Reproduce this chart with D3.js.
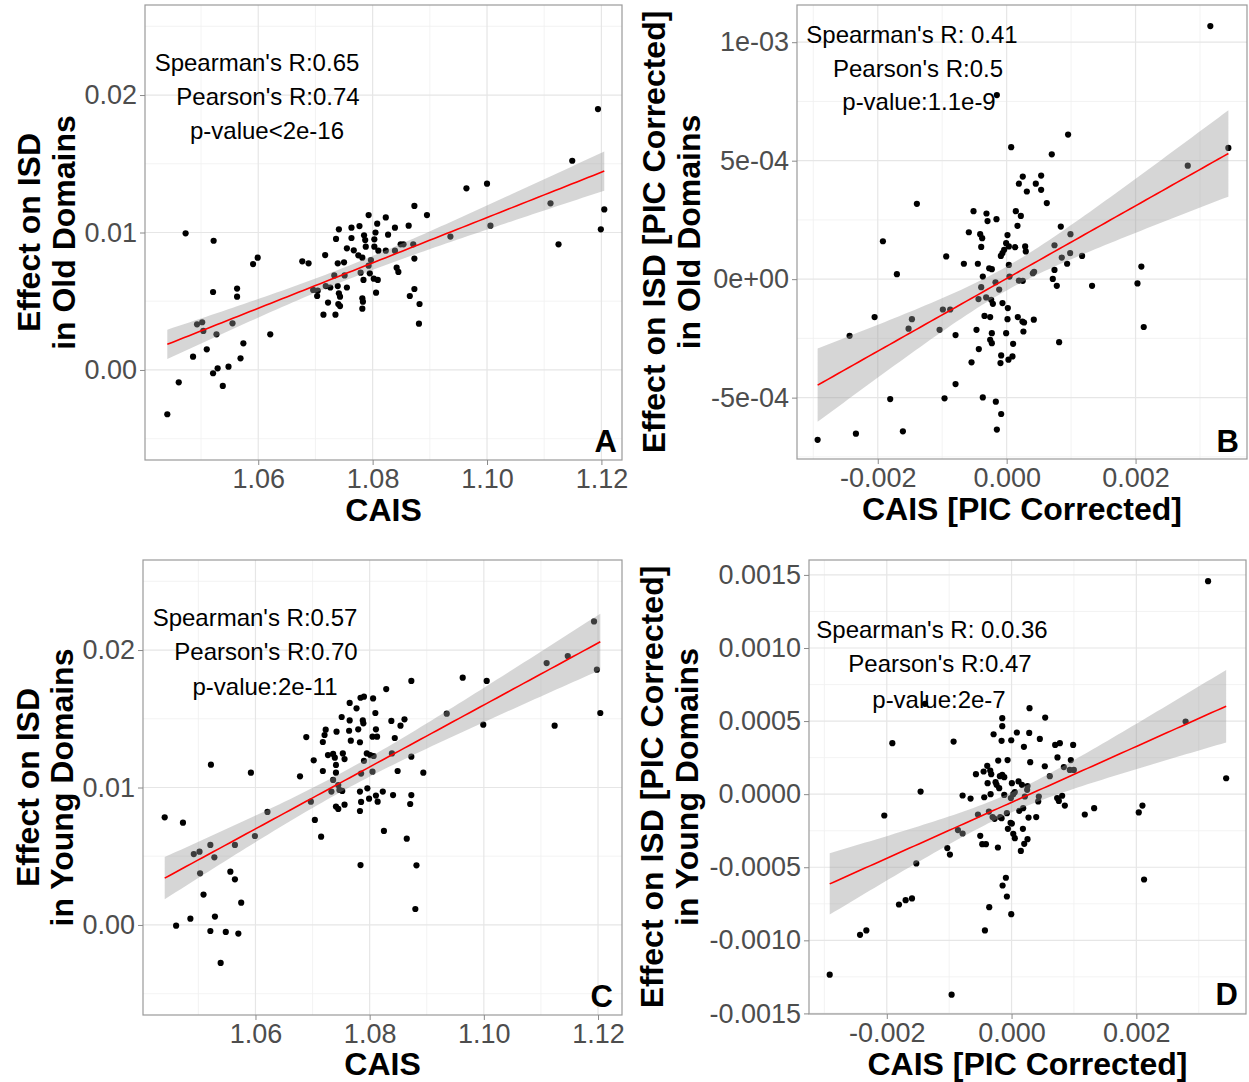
<!DOCTYPE html>
<html lang="en">
<head>
<meta charset="UTF-8">
<title>CAIS vs ISD</title>
<script src="https://cdn.jsdelivr.net/npm/d3@7"></script>
<style>
  body { margin: 0; background: #fff; }
  text { font-family: "Liberation Sans", Arial, Helvetica, sans-serif; }
</style>
</head>
<body>
<svg id="fig" width="1249" height="1082"></svg>
<script>
// ---- data ----
// A: CAIS vs effect on ISD, old domains
const oldRaw = [
  [1.0473,0.00994],[1.0522,0.0094],[1.0599,0.00817],[1.0591,0.0077],[1.0677,0.0079],[1.0688,0.00776],[1.0717,0.00836],
  [1.0741,0.01023],[1.0736,0.00953],[1.0763,0.01035],[1.0777,0.01047],[1.0793,0.01127],[1.0808,0.01064],[1.0823,0.0111],
  [1.0827,0.00984],[1.0763,0.0096],[1.0755,0.00885],[1.0767,0.0087],[1.0785,0.0098],[1.0787,0.00945],[1.0788,0.00897],
  [1.0803,0.0095],[1.0805,0.01],[1.0803,0.00897],[1.081,0.00868],[1.0823,0.00868],[1.0775,0.00834],[1.0782,0.00817],
  [1.0779,0.00708],[1.0793,0.00759],[1.0797,0.008],[1.0784,0.00655],[1.0795,0.00703],[1.0802,0.00664],[1.0809,0.00655],
  [1.0806,0.00562],[1.0739,0.00776],[1.075,0.00783],[1.0733,0.00688],[1.0751,0.00688],[1.0718,0.0061],[1.0726,0.006],
  [1.0739,0.0061],[1.0755,0.006],[1.0696,0.00582],[1.0704,0.00577],[1.0703,0.00538],[1.0741,0.00558],[1.0743,0.00533],
  [1.0722,0.0049],[1.074,0.0048],[1.0743,0.00465],[1.0714,0.00402],[1.0735,0.00402],[1.0782,0.00521],[1.0783,0.00497],
  [1.0782,0.00446],[1.0563,0.00592],[1.0563,0.00533],[1.0521,0.00567],[1.0493,0.00332],[1.0502,0.00347],[1.0504,0.00284],
  [1.0527,0.00259],[1.0555,0.00339],[1.0621,0.00259],[1.0574,0.00194],[1.051,0.0015],[1.0486,0.00097],[1.0569,0.00085],
  [1.0548,0.00024],[1.0529,0.00012],[1.0521,-0.00024],[1.0538,-0.00116],[1.0461,-0.0009],[1.0441,-0.00322],
  [1.1194,0.01898],[1.1149,0.01522],[1.0964,0.01321],[1.10,0.01355],[1.1111,0.01212],[1.1205,0.01168],[1.1199,0.01023],
  [1.1125,0.00914],[1.1006,0.0105],[1.0936,0.0097],[1.0873,0.01193],[1.0895,0.01127],[1.0839,0.01035],[1.0863,0.0105],
  [1.0849,0.00914],[1.0854,0.00914],[1.0871,0.00914],[1.0839,0.00868],[1.0873,0.0081],[1.0842,0.00744],[1.0845,0.00713],
  [1.0873,0.00589],[1.0865,0.00538],[1.0882,0.0048],[1.0881,0.00337]
];

// B: PIC corrected, old domains
const oldPic = [
  [-0.152e-3,7.77e-4],[0.07e-3,5.57e-4],[-1.393e-3,3.18e-4],[-1.92e-3,1.60e-4],[-1.703e-3,0.21e-4],[-2.049e-3,-1.60e-4],
  [-2.437e-3,-2.39e-4],[-2.933e-3,-6.78e-4],[-2.339e-3,-6.52e-4],[-1.807e-3,-5.06e-4],[-1.61e-3,-6.42e-4],[-1.522e-3,-2.09e-4],
  [-1.47e-3,-1.69e-4],[-1.041e-3,-2.14e-4],[-0.99e-3,-1.28e-4],[-0.876e-3,-1.28e-4],[-0.938e-3,0.96e-4],[-0.793e-3,-2.36e-4],
  [-0.793e-3,-4.43e-4],[-0.964e-3,-5.03e-4],[-0.664e-3,0.65e-4],[-0.587e-3,1.98e-4],[-0.514e-3,2.87e-4],[-0.411e-3,1.90e-4],
  [-0.38e-3,1.73e-4],[-0.395e-3,1.36e-4],[-0.313e-3,2.77e-4],[-0.297e-3,2.45e-4],[-0.158e-3,2.53e-4],[-0.447e-3,0.65e-4],
  [-0.37e-3,0.11e-4],[-0.395e-3,-0.34e-4],[-0.437e-3,-0.84e-4],[-0.318e-3,-0.77e-4],[-0.271e-3,0.46e-4],[-0.23e-3,0.42e-4],
  [-0.24e-3,-0.87e-4],[-0.214e-3,-1.04e-4],[-0.173e-3,-0.13e-4],[-0.116e-3,-0.44e-4],[-0.065e-3,-1.01e-4],[0.018e-3,-1.22e-4],
  [-0.344e-3,-1.55e-4],[-0.256e-3,-1.60e-4],[-0.468e-3,-2.14e-4],[-0.23e-3,-2.28e-4],[-0.256e-3,-2.56e-4],[-0.23e-3,-2.70e-4],
  [-0.432e-3,-2.95e-4],[-0.545e-3,-3.51e-4],[-0.37e-3,-4.99e-4],[-0.168e-3,-5.17e-4],[-0.085e-3,-5.69e-4],[-0.152e-3,-6.35e-4],
  [-0.096e-3,-3.54e-4],[-0.085e-3,-3.22e-4],[0.028e-3,-3.40e-4],[0.09e-3,-3.26e-4],[0.1e-3,-2.73e-4],[-0.008e-3,-2.28e-4],
  [0.013e-3,-1.69e-4],[0.173e-3,-1.60e-4],[0.034e-3,0.60e-4],[0.044e-3,0.11e-4],[0.189e-3,-0.06e-4],[0.013e-3,1.86e-4],
  [-0.008e-3,1.52e-4],[0.034e-3,1.38e-4],[-0.039e-3,1.24e-4],[-0.09e-3,0.98e-4],[-0.065e-3,1.10e-4],[0.132e-3,1.35e-4],
  [0.142e-3,2.87e-4],[0.168e-3,2.25e-4],[0.189e-3,4.03e-4],
  [3.16e-3,10.68e-4],[3.44e-3,5.54e-4],[2.81e-3,4.79e-4],[0.953e-3,6.10e-4],[0.70e-3,5.27e-4],[0.25e-3,4.33e-4],
  [0.313e-3,3.70e-4],[0.452e-3,4.03e-4],[0.535e-3,4.37e-4],[0.535e-3,3.77e-4],[0.623e-3,3.21e-4],[0.22e-3,2.67e-4],
  [0.287e-3,1.38e-4],[0.297e-3,1.17e-4],[0.84e-3,2.22e-4],[0.742e-3,1.43e-4],[0.99e-3,1.90e-4],[0.985e-3,1.10e-4],
  [0.855e-3,0.91e-4],[0.938e-3,0.65e-4],[1.17e-3,0.98e-4],[0.742e-3,0.39e-4],[0.716e-3,0.01e-4],[0.778e-3,-0.28e-4],
  [0.406e-3,0.25e-4],[0.426e-3,0.31e-4],[0.25e-3,-0.07e-4],[1.325e-3,-0.28e-4],[2.09e-3,0.53e-4],[2.03e-3,-0.18e-4],
  [2.127e-3,-2.02e-4],[0.245e-3,-1.79e-4],[0.27e-3,-1.83e-4],[0.421e-3,-1.71e-4],[0.26e-3,-2.21e-4],[0.814e-3,-2.66e-4]
];

// C: CAIS vs effect on ISD, young domains
const youngRaw = [
  [1.0441,0.00783],[1.0473,0.00744],[1.0522,0.01166],[1.0592,0.01108],[1.0492,0.00516],[1.0502,0.00533],[1.0521,0.00582],
  [1.0528,0.00492],[1.0503,0.00376],[1.0564,0.00582],[1.0599,0.00647],[1.0621,0.00822],[1.0556,0.00388],[1.0564,0.00332],
  [1.0575,0.00162],[1.0509,0.00221],[1.0486,0.00046],[1.0461,-0.00005],[1.0529,0.00061],[1.0521,-0.00044],[1.0548,-0.00051],
  [1.057,-0.00063],[1.0539,-0.00276],[1.0689,0.01367],[1.0678,0.01081],[1.0702,0.01198],[1.0697,0.00897],[1.0704,0.00764],
  [1.0715,0.00642],[1.0718,0.01331],[1.0723,0.01421],[1.0721,0.01382],[1.0718,0.0112],[1.0727,0.01236],[1.0736,0.01244],
  [1.0742,0.01406],[1.0751,0.01513],[1.0765,0.01615],[1.0765,0.01488],[1.0764,0.01413],[1.0767,0.01341],[1.0739,0.01217],
  [1.0741,0.01164],[1.0741,0.01108],[1.0736,0.01055],[1.0753,0.01248],[1.0756,0.01207],[1.0745,0.01018],[1.0747,0.00982],
  [1.0752,0.00975],[1.0733,0.0097],[1.0741,0.00861],[1.0745,0.00844],[1.0756,0.00875],[1.0777,0.01576],[1.0784,0.01653],
  [1.079,0.01661],[1.0806,0.01648],[1.078,0.01423],[1.0788,0.01488],[1.0789,0.01467],[1.0783,0.01329],[1.0805,0.0137],
  [1.081,0.01542],[1.0811,0.01423],[1.0813,0.0137],[1.0829,0.01716],[1.0795,0.01248],[1.0801,0.01236],[1.0807,0.01229],
  [1.079,0.01193],[1.0785,0.01101],[1.0805,0.01115],[1.0783,0.0097],[1.0785,0.00895],[1.0796,0.00994],[1.0799,0.00919],
  [1.0783,0.00829],[1.0811,0.00941],[1.0814,0.00897],[1.0823,0.0097],[1.0825,0.00684],[1.0784,0.00436],
  [1.1193,0.02208],[1.1147,0.01956],[1.111,0.01905],[1.1198,0.01857],[1.1204,0.01542],[1.1124,0.0145],[1.0963,0.01799],
  [1.1005,0.01775],[1.0935,0.01537],[1.0999,0.01457],[1.0873,0.01775],[1.0838,0.01484],[1.0861,0.01496],[1.0854,0.0145],
  [1.0844,0.0136],[1.0839,0.01248],[1.0873,0.01224],[1.0849,0.0112],[1.0894,0.01108],[1.0841,0.00945],[1.0873,0.00945],
  [1.0871,0.0088],[1.0865,0.00628],[1.0882,0.00434],[1.088,0.00116]
];

// D: PIC corrected, young domains
const youngPic = [
  [-1.388e-3,6.18e-4],[-1.911e-3,3.49e-4],[-0.929e-3,3.60e-4],[-1.458e-3,0.18e-4],[-2.04e-3,-1.46e-4],[-2.915e-3,-12.35e-4],
  [-2.429e-3,-9.62e-4],[-2.328e-3,-9.32e-4],[-1.805e-3,-7.55e-4],[-1.698e-3,-7.25e-4],[-1.596e-3,-7.13e-4],[-1.527e-3,-4.74e-4],
  [-1.03e-3,-3.69e-4],[-0.988e-3,-4.13e-4],[-0.961e-3,-13.72e-4],[-0.86e-3,-2.46e-4],[-0.785e-3,-2.69e-4],[-0.785e-3,-0.09e-4],
  [-0.657e-3,-0.30e-4],[-0.571e-3,1.37e-4],[-0.539e-3,-1.39e-4],[-0.502e-3,-2.85e-4],[-0.47e-3,-3.42e-4],[-0.411e-3,-3.42e-4],
  [-0.438e-3,-0.21e-4],[-0.448e-3,1.55e-4],[-0.39e-3,1.94e-4],[-0.384e-3,0.75e-4],[-0.363e-3,-1.19e-4],[-0.336e-3,0],
  [-0.326e-3,1.37e-4],[-0.342e-3,1.62e-4],[-0.288e-3,4.10e-4],[-0.214e-3,2.30e-4],[-0.256e-3,0.82e-4],[-0.24e-3,0.64e-4],
  [-0.198e-3,0.41e-4],[-0.187e-3,1.23e-4],[-0.149e-3,1.32e-4],[-0.117e-3,1.16e-4],[-0.16e-3,3.65e-4],[-0.149e-3,4.65e-4],
  [-0.149e-3,5.20e-4],[-0.064e-3,2.33e-4],[-0.005e-3,3.69e-4],[0.085e-3,4.22e-4],[0.198e-3,3.24e-4],[0.283e-3,4.19e-4],
  [0.288e-3,5.88e-4],[0.005e-3,0.75e-4],[0.112e-3,0.87e-4],[0.166e-3,0.64e-4],[0.256e-3,0.55e-4],[-0.117e-3,-0.05e-4],
  [-0.011e-3,-0.27e-4],[0.027e-3,0],[0.053e-3,0.14e-4],[-0.304e-3,-1.57e-4],[-0.272e-3,-1.69e-4],[-0.182e-3,-1.57e-4],
  [-0.16e-3,-1.64e-4],[-0.075e-3,-1.30e-4],[-0.059e-3,-2.37e-4],[-0.016e-3,-1.96e-4],[0.005e-3,-2.01e-4],[0.027e-3,-2.71e-4],
  [0.053e-3,-3.01e-4],[0.123e-3,-1.14e-4],[0.182e-3,-2.37e-4],[0.203e-3,-3.40e-4],[0.149e-3,-3.88e-4],[0.272e-3,-1.60e-4],
  [0.256e-3,-3.08e-4],[-0.219e-3,-3.65e-4],[-0.091e-3,-5.72e-4],[-0.144e-3,-6.25e-4],[-0.075e-3,-7.00e-4],[-0.005e-3,-8.21e-4],
  [-0.358e-3,-7.73e-4],[-0.427e-3,-9.32e-4],
  [3.15e-3,14.57e-4],[3.44e-3,1.09e-4],[2.79e-3,4.97e-4],[0.539e-3,5.24e-4],[0.453e-3,3.78e-4],[0.699e-3,3.37e-4],
  [0.774e-3,3.49e-4],[0.987e-3,3.37e-4],[0.736e-3,2.51e-4],[0.95e-3,2.33e-4],[0.299e-3,2.19e-4],[0.533e-3,1.91e-4],
  [0.838e-3,1.85e-4],[0.934e-3,1.66e-4],[0.998e-3,1.66e-4],[0.613e-3,1.23e-4],[0.25e-3,0.30e-4],[0.213e-3,-0.16e-4],
  [0.437e-3,-0.16e-4],[0.427e-3,-0.50e-4],[0.811e-3,-0.11e-4],[0.731e-3,-0.27e-4],[0.758e-3,-0.46e-4],[0.854e-3,-0.78e-4],
  [0.186e-3,-0.96e-4],[0.395e-3,-1.57e-4],[1.174e-3,-1.39e-4],[1.324e-3,-0.96e-4],[2.039e-3,-1.25e-4],[2.098e-3,-0.78e-4],
  [2.124e-3,-5.84e-4]
];

// ticks and labels
const caisTicks = [1.06, 1.08, 1.10, 1.12];
const caisMinor = [1.05, 1.07, 1.09, 1.11];
const caisLabels = ["1.06", "1.08", "1.10", "1.12"];
const isdTicks = [0, 0.01, 0.02];
const isdMinor = [-0.005, 0.005, 0.015, 0.025];
const isdLabels = ["0.00", "0.01", "0.02"];
const picXTicks = [-0.002, 0, 0.002];
const picXMinor = [-0.003, -0.001, 0.001, 0.003];
const picXLabels = ["-0.002", "0.000", "0.002"];
const oldPicYTicks = [-5e-4, 0, 5e-4, 1e-3];
const oldPicYMinor = [-7.5e-4, -2.5e-4, 2.5e-4, 7.5e-4];
const oldPicYLabels = ["-5e-04", "0e+00", "5e-04", "1e-03"];
const youngPicYTicks = [-0.0015, -0.001, -0.0005, 0, 0.0005, 0.001, 0.0015];
const youngPicYMinor = [-0.00125, -0.00075, -0.00025, 0.00025, 0.00075, 0.00125];
const youngPicYLabels = ["-0.0015", "-0.0010", "-0.0005", "0.0000", "0.0005", "0.0010", "0.0015"];

const statsA = ["Spearman's R:0.65", "Pearson's R:0.74", "p-value<2e-16"];
const statsB = ["Spearman's R: 0.41", "Pearson's R:0.5", "p-value:1.1e-9"];
const statsC = ["Spearman's R:0.57", "Pearson's R:0.70", "p-value:2e-11"];
const statsD = ["Spearman's R: 0.0.36", "Pearson's R:0.47", "p-value:2e-7"];

// ---- layout ----
const panels = [
  { pts: oldRaw, box: [145, 5, 622, 460], xd: [1.0402, 1.1236], yd: [-0.00655, 0.02655],
    xt: caisTicks, xm: caisMinor, xl: caisLabels, yt: isdTicks, ym: isdMinor, yl: isdLabels,
    xTitle: "CAIS", xTitleY: 521, yTitle: ["Effect on ISD", "in Old Domains"], yTitleX: [40, 75],
    stats: statsA, statsPos: [[257, 71], [268, 105], [267, 139]], letter: "A", letterPos: [617, 452] },
  { pts: oldPic, box: [797, 5, 1247, 459], xd: [-3.253e-3, 3.729e-3], yd: [-7.59e-4, 1.157e-3],
    xt: picXTicks, xm: picXMinor, xl: picXLabels, yt: oldPicYTicks, ym: oldPicYMinor, yl: oldPicYLabels,
    xTitle: "CAIS [PIC Corrected]", xTitleY: 520, yTitle: ["Effect on ISD [PIC Corrected]", "in Old Domains"], yTitleX: [665, 700],
    stats: statsB, statsPos: [[912, 43], [918, 77], [919, 110]], letter: "B", letterPos: [1239, 452] },
  { pts: youngRaw, box: [143, 560, 622, 1015], xd: [1.0403, 1.1242], yd: [-0.00655, 0.02655],
    xt: caisTicks, xm: caisMinor, xl: caisLabels, yt: isdTicks, ym: isdMinor, yl: isdLabels,
    xTitle: "CAIS", xTitleY: 1075, yTitle: ["Effect on ISD", "in Young Domains"], yTitleX: [39, 73],
    stats: statsC, statsPos: [[255, 626], [266, 660], [265, 695]], letter: "C", letterPos: [613, 1007] },
  { pts: youngPic, box: [809, 560, 1246, 1014], xd: [-3.247e-3, 3.758e-3], yd: [-1.504e-3, 1.602e-3],
    xt: picXTicks, xm: picXMinor, xl: picXLabels, yt: youngPicYTicks, ym: youngPicYMinor, yl: youngPicYLabels,
    xTitle: "CAIS [PIC Corrected]", xTitleY: 1075, yTitle: ["Effect on ISD [PIC Corrected]", "in Young Domains"], yTitleX: [663, 698],
    stats: statsD, statsPos: [[932, 638], [940, 672], [939, 708]], letter: "D", letterPos: [1238, 1005] }
];

// least squares fit with 95% confidence band (like geom_smooth(method="lm"))
function lmBand(pts) {
  const n = pts.length;
  const mx = d3.mean(pts, d => d[0]), my = d3.mean(pts, d => d[1]);
  let sxx = 0, sxy = 0;
  pts.forEach(([x, y]) => { sxx += (x - mx) ** 2; sxy += (x - mx) * (y - my); });
  const b = sxy / sxx, a = my - b * mx;
  const sse = d3.sum(pts, ([x, y]) => (y - a - b * x) ** 2);
  const s = Math.sqrt(sse / (n - 2)), t = 1.98;
  const [x0, x1] = d3.extent(pts, d => d[0]);
  return d3.range(81).map(i => {
    const x = x0 + (x1 - x0) * i / 80;
    const yh = a + b * x, se = s * Math.sqrt(1 / n + (x - mx) ** 2 / sxx);
    return { x, y: yh, lo: yh - t * se, hi: yh + t * se };
  });
}

const svg = d3.select("#fig");
svg.append("rect").attr("width", 1249).attr("height", 1082).attr("fill", "#fff");

panels.forEach(p => {
  const [L, T, R, B] = p.box;
  const x = d3.scaleLinear().domain(p.xd).range([L, R]);
  const y = d3.scaleLinear().domain(p.yd).range([B, T]);
  const g = svg.append("g");

  // grid
  g.selectAll(".gxm").data(p.xm).join("line")
    .attr("x1", d => x(d)).attr("x2", d => x(d)).attr("y1", T).attr("y2", B)
    .attr("stroke", "#f0f0f0").attr("stroke-width", 0.8);
  g.selectAll(".gym").data(p.ym).join("line")
    .attr("y1", d => y(d)).attr("y2", d => y(d)).attr("x1", L).attr("x2", R)
    .attr("stroke", "#f0f0f0").attr("stroke-width", 0.8);
  g.selectAll(".gx").data(p.xt).join("line")
    .attr("x1", d => x(d)).attr("x2", d => x(d)).attr("y1", T).attr("y2", B)
    .attr("stroke", "#e6e6e6").attr("stroke-width", 1.2);
  g.selectAll(".gy").data(p.yt).join("line")
    .attr("y1", d => y(d)).attr("y2", d => y(d)).attr("x1", L).attr("x2", R)
    .attr("stroke", "#e6e6e6").attr("stroke-width", 1.2);

  // points
  g.selectAll(".pt").data(p.pts).join("circle")
    .attr("cx", d => x(d[0])).attr("cy", d => y(d[1])).attr("r", 3.1).attr("fill", "#000");

  // smooth
  const band = lmBand(p.pts);
  g.append("path").datum(band)
    .attr("d", d3.area().x(d => x(d.x)).y0(d => y(d.lo)).y1(d => y(d.hi)))
    .attr("fill", "#999999").attr("fill-opacity", 0.4);
  g.append("path").datum(band)
    .attr("d", d3.line().x(d => x(d.x)).y(d => y(d.y)))
    .attr("fill", "none").attr("stroke", "#ff0000").attr("stroke-width", 1.6);

  // border
  g.append("rect").attr("x", L).attr("y", T).attr("width", R - L).attr("height", B - T)
    .attr("fill", "none").attr("stroke", "#9a9a9a").attr("stroke-width", 1.2);

  // axes
  const ax = g.append("g").attr("transform", `translate(0,${B})`)
    .call(d3.axisBottom(x).tickValues(p.xt).tickSize(5).tickPadding(3).tickFormat((d, i) => p.xl[i]));
  const ay = g.append("g").attr("transform", `translate(${L},0)`)
    .call(d3.axisLeft(y).tickValues(p.yt).tickSize(5).tickPadding(3).tickFormat((d, i) => p.yl[i]));
  [ax, ay].forEach(a => {
    a.select(".domain").remove();
    a.selectAll(".tick line").attr("stroke", "#8a8a8a");
    a.selectAll(".tick text").attr("fill", "#4d4d4d").style("font-size", "27px")
      .style("font-family", '"Liberation Sans", Arial, sans-serif');
  });
  ax.selectAll(".tick text").attr("dy", "0.75em");

  // titles
  g.append("text").attr("x", (L + R) / 2).attr("y", p.xTitleY).attr("text-anchor", "middle")
    .style("font-size", "32px").style("font-weight", "bold").text(p.xTitle);
  const yc = (T + B) / 2;
  p.yTitle.forEach((line, i) => {
    g.append("text").attr("transform", `translate(${p.yTitleX[i]},${yc}) rotate(-90)`)
      .attr("text-anchor", "middle").style("font-size", "32px").style("font-weight", "bold").text(line);
  });

  // stats text
  p.stats.forEach((s, i) => {
    g.append("text").attr("x", p.statsPos[i][0]).attr("y", p.statsPos[i][1]).attr("text-anchor", "middle")
      .style("font-size", "24px").attr("fill", "#000").text(s);
  });

  // panel letter
  g.append("text").attr("x", p.letterPos[0]).attr("y", p.letterPos[1]).attr("text-anchor", "end")
    .style("font-size", "31px").style("font-weight", "bold").text(p.letter);
});
</script>
</body>
</html>
